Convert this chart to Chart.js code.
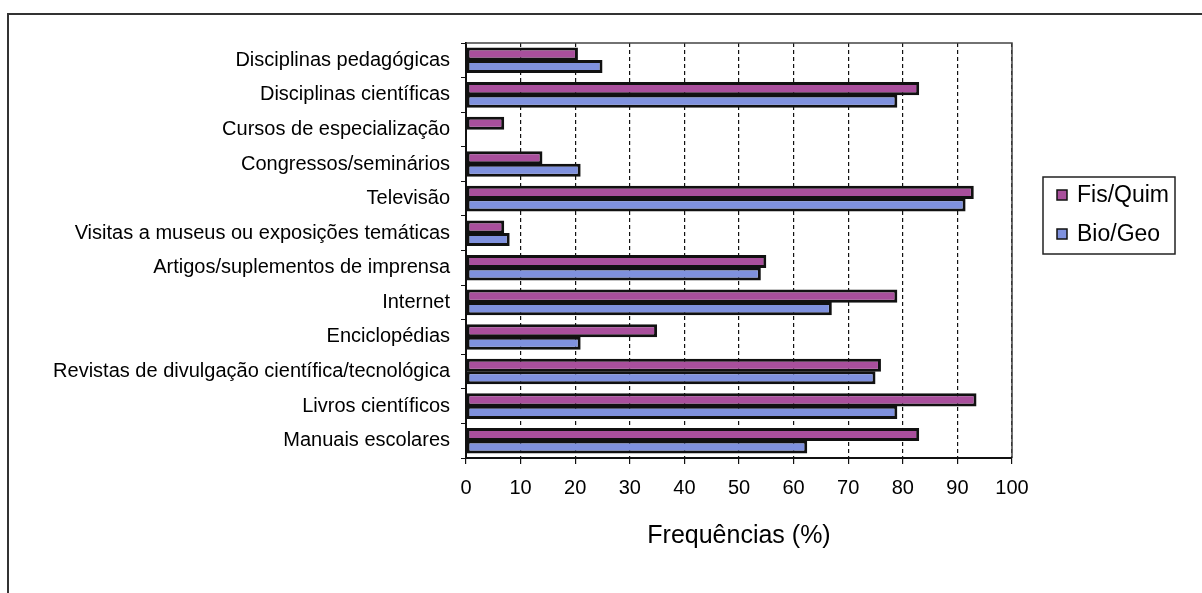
<!DOCTYPE html>
<html>
<head>
<meta charset="utf-8">
<script src="https://cdn.jsdelivr.net/npm/chart.js@4"></script>
<style>
  html, body { margin: 0; padding: 0; background: #fff; overflow: hidden; }
  #marco { position: absolute; left: 7px; top: 13px; width: 1300px; height: 700px;
           border-left: 2px solid #333; border-top: 2px solid #333; }
  #caja { position: absolute; left: 0; top: 0; width: 1202px; height: 593px; }
</style>
</head>
<body>
<div id="marco"></div>
<div id="caja"><canvas id="grafico"></canvas></div>
<script>
// categorias de cima para baixo
const categorias = [
  'Disciplinas pedagógicas',
  'Disciplinas científicas',
  'Cursos de especialização',
  'Congressos/seminários',
  'Televisão',
  'Visitas a museus ou exposições temáticas',
  'Artigos/suplementos de imprensa',
  'Internet',
  'Enciclopédias',
  'Revistas de divulgação científica/tecnológica',
  'Livros científicos',
  'Manuais escolares'
];
const fisQuim = [20.5, 83, 7, 14, 93, 7, 55, 79, 35, 76, 93.5, 83];
const bioGeo = [25, 79, 0, 21, 91.5, 8, 54, 67, 21, 75, 79, 62.5];
const ticksX = [0, 10, 20, 30, 40, 50, 60, 70, 80, 90, 100];

const fonte = 'Arial, "Liberation Sans", sans-serif';

// borda da area do grafico (cima e direita) e eixo de baixo continuo
const bordaArea = {
  id: 'bordaArea',
  afterDraw(chart) {
    const { ctx, chartArea: a } = chart;
    ctx.save();
    ctx.setLineDash([]);
    ctx.strokeStyle = '#444';
    ctx.lineWidth = 1.5;
    ctx.beginPath();
    ctx.moveTo(a.left, a.top);
    ctx.lineTo(a.right, a.top);
    ctx.lineTo(a.right, a.bottom);
    ctx.stroke();
    ctx.strokeStyle = '#111';
    ctx.lineWidth = 2;
    ctx.beginPath();
    ctx.moveTo(a.left, a.bottom);
    ctx.lineTo(a.right, a.bottom);
    ctx.stroke();
    ctx.restore();
  }
};

// legenda com moldura, como no original
const legendaCaixa = {
  id: 'legendaCaixa',
  afterDraw(chart) {
    const ctx = chart.ctx;
    const x = 1043, y = 177, w = 132, h = 77;
    ctx.save();
    ctx.strokeStyle = '#222';
    ctx.lineWidth = 1.5;
    ctx.strokeRect(x, y, w, h);
    ctx.font = '23px ' + fonte;
    ctx.textBaseline = 'middle';
    chart.data.datasets.forEach((ds, i) => {
      const cy = y + 18 + i * 39;
      ctx.fillStyle = ds.backgroundColor;
      ctx.fillRect(x + 14, cy - 5, 10, 10);
      ctx.strokeStyle = '#111';
      ctx.lineWidth = 1.5;
      ctx.strokeRect(x + 14, cy - 5, 10, 10);
      ctx.fillStyle = '#000';
      ctx.fillText(ds.label, x + 34, cy + 1);
    });
    ctx.restore();
  }
};

new Chart(document.getElementById('grafico'), {
  type: 'bar',
  data: {
    labels: categorias,
    datasets: [
      { label: 'Fis/Quim', data: fisQuim, backgroundColor: '#a94f9c' },
      { label: 'Bio/Geo', data: bioGeo, backgroundColor: '#7f91de' }
    ]
  },
  options: {
    indexAxis: 'y',
    responsive: true,
    maintainAspectRatio: false,
    animation: false,
    layout: { padding: { top: 43, right: 190, left: 0, bottom: 0 } },
    datasets: {
      bar: {
        borderColor: '#111',
        borderWidth: 3,
        borderSkipped: false,
        categoryPercentage: 0.72,
        barPercentage: 1.05
      }
    },
    plugins: {
      legend: { display: false },
      tooltip: { enabled: false }
    },
    scales: {
      y: {
        afterFit: s => { s.width = 466; },
        grid: { drawOnChartArea: false, tickLength: 5, color: '#111', offset: true },
        border: { color: '#111', width: 2 },
        ticks: { color: '#000', padding: 11, font: { family: fonte, size: 20 } }
      },
      x: {
        min: 0,
        max: 100,
        afterFit: s => { s.height = 135; },
        afterBuildTicks: s => { s.ticks = ticksX.map(v => ({ value: v })); },
        grid: { color: '#111', lineWidth: 1.2, tickBorderDash: [],
                tickColor: '#111', tickLength: 6 },
        border: { color: '#111', width: 2, dash: [4, 3] },
        ticks: { color: '#000', padding: 12, font: { family: fonte, size: 20 } },
        title: {
          display: true,
          text: 'Frequências (%)',
          color: '#000',
          font: { family: fonte, size: 25 },
          padding: { top: 0, bottom: 42 }
        }
      }
    }
  },
  plugins: [bordaArea, legendaCaixa]
});
</script>
</body>
</html>
